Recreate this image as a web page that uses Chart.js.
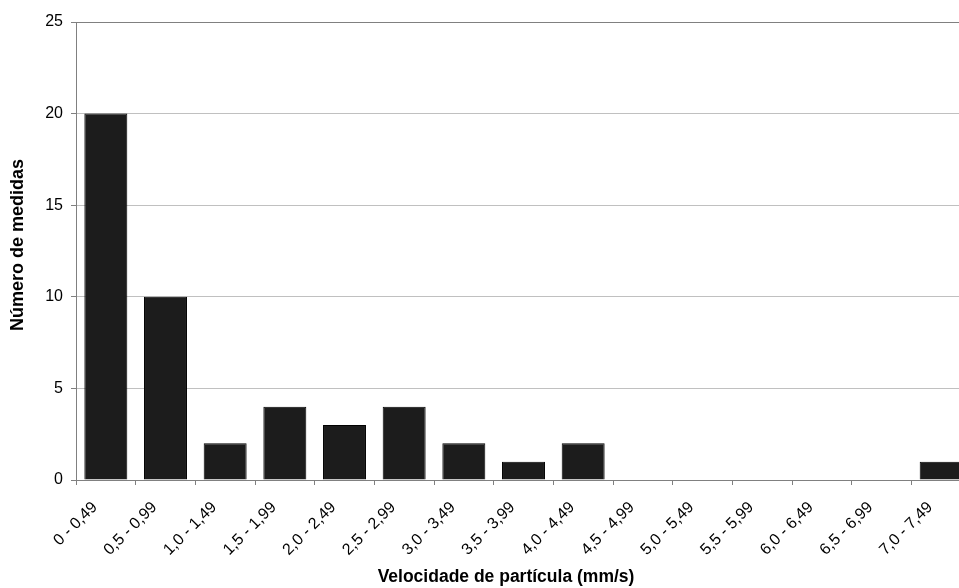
<!DOCTYPE html>
<html>
<head>
<meta charset="utf-8">
<script src="https://cdn.jsdelivr.net/npm/chart.js@4.4.1/dist/chart.umd.min.js"></script>
<style>
  html, body { margin: 0; padding: 0; background: #ffffff; overflow: hidden; }
  #wrap { width: 959px; height: 588px; overflow: hidden; position: relative; }
  canvas { display: block; }
</style>
</head>
<body>
<div id="wrap"><canvas id="c" width="971" height="588"></canvas></div>
<script>
const categories = ["0 - 0,49", "0,5 - 0,99", "1,0 - 1,49", "1,5 - 1,99", "2,0 - 2,49", "2,5 - 2,99", "3,0 - 3,49", "3,5 - 3,99", "4,0 - 4,49", "4,5 - 4,99", "5,0 - 5,49", "5,5 - 5,99", "6,0 - 6,49", "6,5 - 6,99", "7,0 - 7,49"];
const counts = [20, 10, 2, 4, 3, 4, 2, 1, 2, 0, 0, 0, 0, 0, 1];
const yMin = 0, yMax = 25, yStep = 5;
const xTitle = "Velocidade de partícula (mm/s)";
const yTitle = "Número de medidas";

const FONT = "'Liberation Sans', Arial, Helvetica, sans-serif";

const axisTitlesPlugin = {
  id: 'axisTitlesPlugin',
  afterDraw(chart) {
    const ctx = chart.ctx;
    ctx.save();
    ctx.fillStyle = "#000000";
    ctx.textAlign = "center";
    ctx.textBaseline = "middle";
    ctx.font = "bold 17.5px " + FONT;
    ctx.fillText(xTitle, 506, 577);
    ctx.translate(18.5, 245);
    ctx.rotate(-Math.PI / 2);
    ctx.font = "bold 18px " + FONT;
    ctx.fillText(yTitle, 0, 0);
    ctx.restore();
  }
};

new Chart(document.getElementById('c'), {
  type: 'bar',
  data: {
    labels: categories,
    datasets: [{
      data: counts,
      backgroundColor: '#1c1c1c',
      borderColor: '#000000',
      borderWidth: 1,
      barPercentage: 0.72,
      categoryPercentage: 1.0
    }]
  },
  options: {
    responsive: false,
    devicePixelRatio: 1,
    animation: false,
    layout: { padding: { left: 0, right: 0, top: 22, bottom: 0 } },
    plugins: {
      legend: { display: false },
      tooltip: { enabled: false },
      title: { display: false }
    },
    scales: {
      x: {
        afterFit(scale) { scale.height = 108; },
        grid: {
          display: true,
          offset: true,
          drawOnChartArea: false,
          drawTicks: true,
          tickLength: 5,
          tickColor: '#808080',
          lineWidth: 1
        },
        border: { display: true, color: '#808080', width: 1 },
        ticks: {
          autoSkip: false,
          minRotation: 45,
          maxRotation: 45,
          color: '#000000',
          padding: 13,
          labelOffset: -11,
          font: { family: FONT, size: 16 }
        }
      },
      y: {
        min: yMin,
        max: yMax,
        afterFit(scale) { scale.width = 76; },
        grid: {
          color: (c) => (c.tick && c.tick.value === yMax) ? '#808080' : '#c0c0c0',
          tickColor: '#808080',
          tickLength: 5,
          lineWidth: 1
        },
        border: { display: true, color: '#808080', width: 1 },
        ticks: {
          stepSize: yStep,
          color: '#000000',
          padding: 8,
          font: { family: FONT, size: 16 }
        },
        title: { display: false }
      }
    }
  },
  plugins: [axisTitlesPlugin]
});
</script>
</body>
</html>
